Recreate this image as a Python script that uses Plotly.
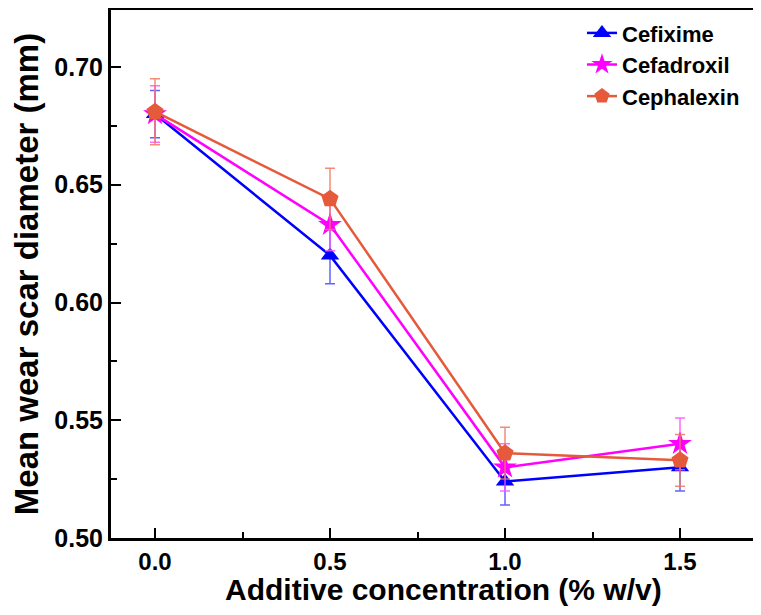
import plotly.graph_objects as go

conc = [0.0, 0.5, 1.0, 1.5]
cefixime = [0.680, 0.620, 0.524, 0.530]
cefixime_err = [0.010, 0.012, 0.010, 0.010]
cefadroxil = [0.680, 0.633, 0.530, 0.540]
cefadroxil_err = [0.012, 0.011, 0.010, 0.011]
cephalexin = [0.681, 0.644, 0.536, 0.533]
cephalexin_err = [0.014, 0.013, 0.011, 0.011]

x_title = "Additive concentration (% w/v)"
y_title = "Mean wear scar diameter (mm)"

series = [
    ("Cefixime", cefixime, cefixime_err, "#0000FF", "rgba(70,70,255,0.85)", "triangle-up", 16),
    ("Cefadroxil", cefadroxil, cefadroxil_err, "#FF00FF", "rgba(255,80,255,0.85)", "star", 18),
    ("Cephalexin", cephalexin, cephalexin_err, "#E55A3A", "rgba(238,120,100,0.85)", "pentagon", 18),
]

fig = go.Figure()
for name, y, e, col, ecol, sym, sz in series:
    fig.add_trace(go.Scatter(
        x=conc, y=y, name=name, mode="lines+markers",
        line=dict(color=col, width=2.5),
        marker=dict(symbol=sym, size=sz, color=col),
        error_y=dict(type="data", array=e, visible=True, color=ecol, thickness=1.5, width=5),
    ))

font_fam = "Liberation Sans, Arial, sans-serif"
fig.update_layout(
    width=753, height=599,
    margin=dict(l=103, r=0, t=2, b=69, autoexpand=False),
    plot_bgcolor="white", paper_bgcolor="white",
    font=dict(family=font_fam, color="black"),
    legend=dict(x=0.7246, y=0.996, xanchor="left", yanchor="top",
                font=dict(size=22, family=font_fam, color="black", weight="bold"),
                bgcolor="rgba(0,0,0,0)"),
    xaxis=dict(
        range=[-0.1257, 1.7314], tickvals=[0, 0.5, 1.0, 1.5], ticktext=["0.0", "0.5", "1.0", "1.5"],
        ticks="inside", ticklen=10, tickwidth=2, tickcolor="black",
        minor=dict(tickvals=[0.25, 0.75, 1.25], ticks="inside", ticklen=6, tickwidth=2, tickcolor="black"),
        showline=True, linewidth=3, linecolor="black", mirror=True,
        showgrid=False, zeroline=False, automargin=False,
        tickfont=dict(size=24, weight="bold"), ticklabelstandoff=0,
    ),
    yaxis=dict(
        range=[0.5, 0.7242], tickvals=[0.50, 0.55, 0.60, 0.65, 0.70],
        ticktext=["0.50", "0.55", "0.60", "0.65", "0.70"],
        ticks="inside", ticklen=10, tickwidth=2, tickcolor="black",
        minor=dict(tickvals=[0.525, 0.575, 0.625, 0.675], ticks="inside", ticklen=6, tickwidth=2, tickcolor="black"),
        showline=True, linewidth=3, linecolor="black", mirror=False,
        showgrid=False, zeroline=False, automargin=False,
        tickfont=dict(size=25, weight="bold"),
        title=dict(text=y_title, font=dict(size=33, weight="bold")),
    ),
    annotations=[dict(
        text=x_title, xref="paper", yref="paper", x=0.5115, y=0,
        xanchor="center", yanchor="middle", yshift=-51, showarrow=False,
        font=dict(size=30, weight="bold", family=font_fam, color="black"),
    )],
)
fig.write_html("out.html")
